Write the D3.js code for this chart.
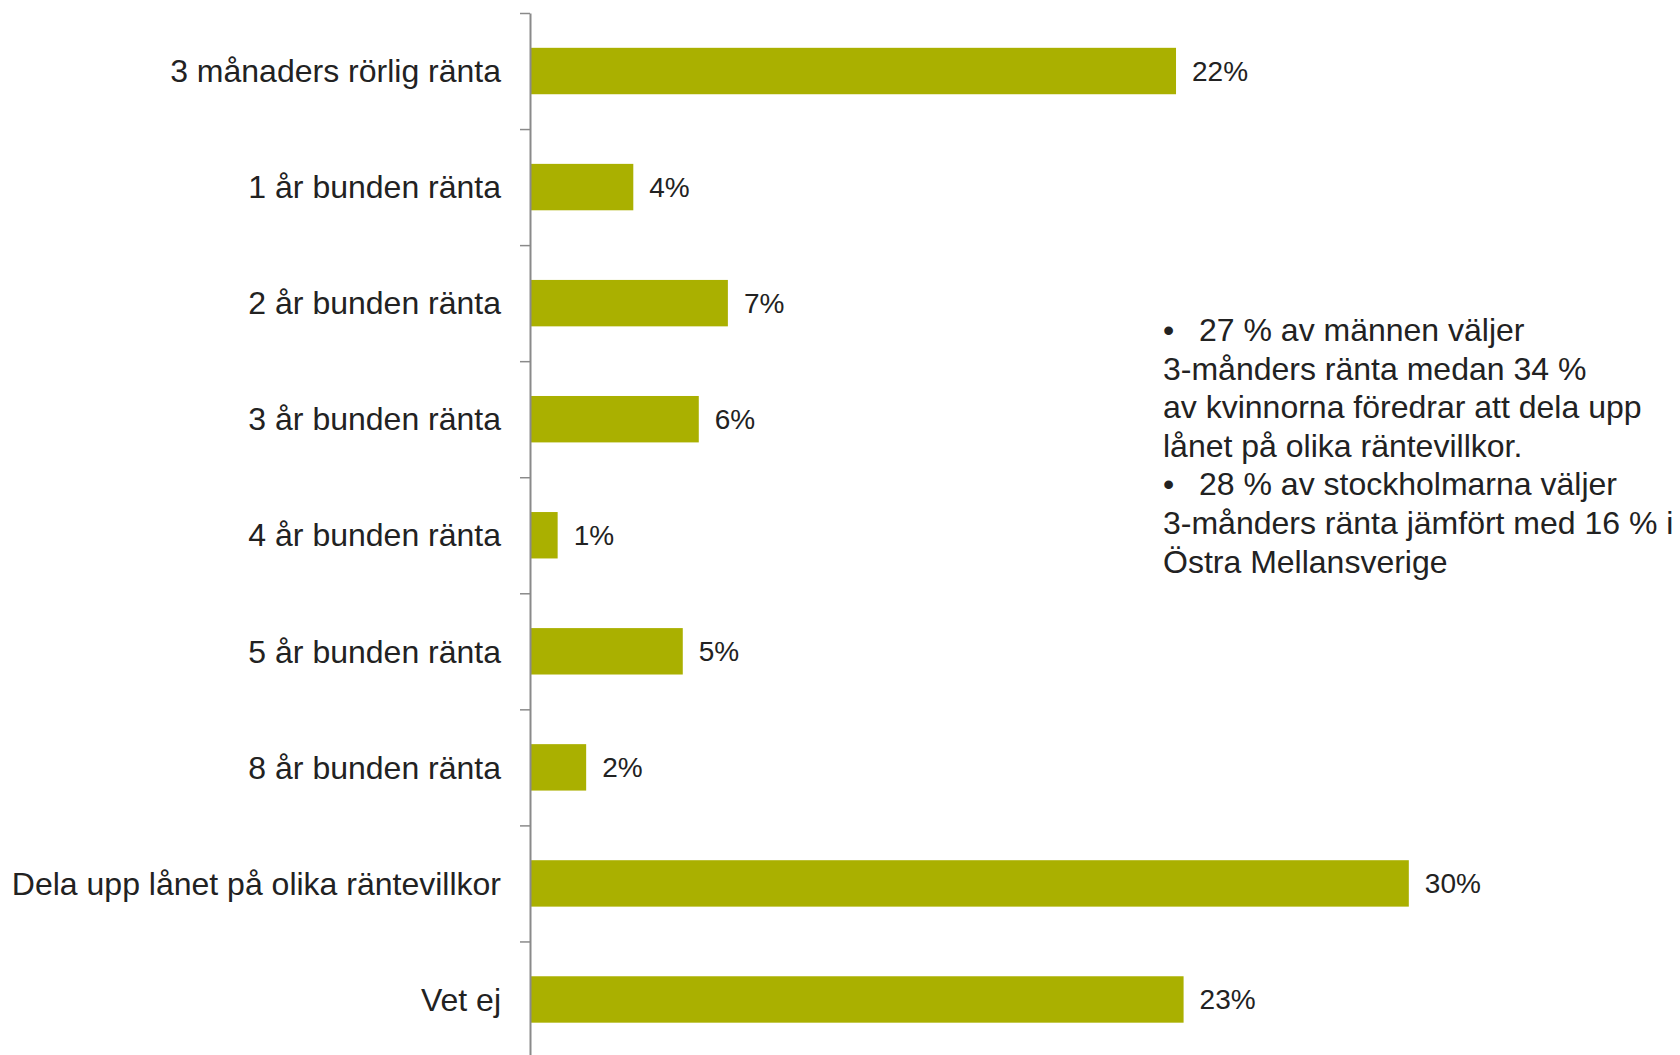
<!DOCTYPE html>
<html>
<head>
<meta charset="utf-8">
<script src="https://cdn.jsdelivr.net/npm/d3@7"></script>
<style>
	body { margin: 0; background: #fff; }
	svg { display: block; font-family: "Liberation Sans", Arial, sans-serif; }
</style>
</head>
<body>
<div class="chart"></div>
<script>
const categories = [
	"3 månaders rörlig ränta",
	"1 år bunden ränta",
	"2 år bunden ränta",
	"3 år bunden ränta",
	"4 år bunden ränta",
	"5 år bunden ränta",
	"8 år bunden ränta",
	"Dela upp lånet på olika räntevillkor",
	"Vet ej"
];
// bar lengths (percent)
const values = [22.2, 3.55, 6.8, 5.8, 0.95, 5.25, 1.93, 30.2, 22.46];
// printed labels next to the bars
const valueLabels = ["22%", "4%", "7%", "6%", "1%", "5%", "2%", "30%", "23%"];
const noteLines = [
	{ bullet: true, text: "27 % av männen väljer" },
	{ bullet: false, text: "3-månders ränta medan 34 %" },
	{ bullet: false, text: "av kvinnorna föredrar att dela upp" },
	{ bullet: false, text: "lånet på olika räntevillkor." },
	{ bullet: true, text: "28 % av stockholmarna väljer" },
	{ bullet: false, text: "3-månders ränta jämfört med 16 % i" },
	{ bullet: false, text: "Östra Mellansverige" }
];

var w = 1680,
	h = 1055,
	axisX = 530,
	yTop = 13,
	yBottom = 1057.5,
	noteY = 341,
	noteStep = 38.6,
	barColor = "#aab000",
	textColor = "#222";

const svg = d3.select(".chart").append("svg").attr("width", w).attr("height", h);

const xScale = d3.scaleLinear().domain([0, 30]).range([axisX, axisX + 30 * 29.1]);

const yScale = d3
	.scaleBand()
	.domain(categories)
	.range([yTop, yBottom])
	.paddingInner(0.6)
	.paddingOuter(0.3);

// boundaries between categories, for the tick marks
const yEdges = d3.scaleLinear().domain([0, categories.length]).range([yTop, yBottom]);

svg
	.selectAll("rect.bar")
	.data(values)
	.enter()
	.append("rect")
	.attr("class", "bar")
	.attr("x", xScale(0))
	.attr("y", (d, i) => yScale(categories[i]))
	.attr("width", (d) => xScale(d) - xScale(0))
	.attr("height", yScale.bandwidth())
	.attr("fill", barColor);

svg
	.selectAll("text.value")
	.data(values)
	.enter()
	.append("text")
	.attr("class", "value")
	.attr("x", (d) => xScale(d) + 16)
	.attr("y", (d, i) => yScale(categories[i]) + yScale.bandwidth() / 2)
	.attr("dy", "0.35em")
	.style("font-size", "28px")
	.style("fill", textColor)
	.text((d, i) => valueLabels[i]);

// axis line with ticks between the bars
const edgeAxis = svg
	.append("g")
	.attr("transform", "translate(" + axisX + ",0)")
	.call(
		d3
			.axisLeft(yEdges)
			.tickValues(d3.range(categories.length + 1))
			.tickSize(10)
			.tickSizeOuter(0)
			.tickFormat("")
	);
edgeAxis.select(".domain").attr("stroke", "#8a8a8a").attr("stroke-width", 2);
edgeAxis.selectAll(".tick line").attr("stroke", "#8a8a8a").attr("stroke-width", 1.5);

// category labels
const catAxis = svg
	.append("g")
	.attr("transform", "translate(" + axisX + ",0)")
	.call(d3.axisLeft(yScale).tickSize(0).tickPadding(29));
catAxis.select(".domain").remove();
catAxis
	.selectAll(".tick text")
	.attr("dy", "0.35em")
	.style("font-size", "32px")
	.style("font-family", '"Liberation Sans", Arial, sans-serif')
	.style("fill", textColor);

// note on the right
const note = svg
	.append("g")
	.style("font-size", "32px")
	.style("fill", textColor);

note
	.selectAll("text.line")
	.data(noteLines)
	.enter()
	.append("text")
	.attr("class", "line")
	.attr("x", (d) => (d.bullet ? 1199 : 1163))
	.attr("y", (d, i) => noteY + i * noteStep)
	.text((d) => d.text);

note
	.selectAll("text.bullet")
	.data(noteLines.filter((d) => d.bullet))
	.enter()
	.append("text")
	.attr("class", "bullet")
	.attr("x", 1163)
	.attr("y", (d) => noteY + noteLines.indexOf(d) * noteStep)
	.text("•");
</script>
</body>
</html>
